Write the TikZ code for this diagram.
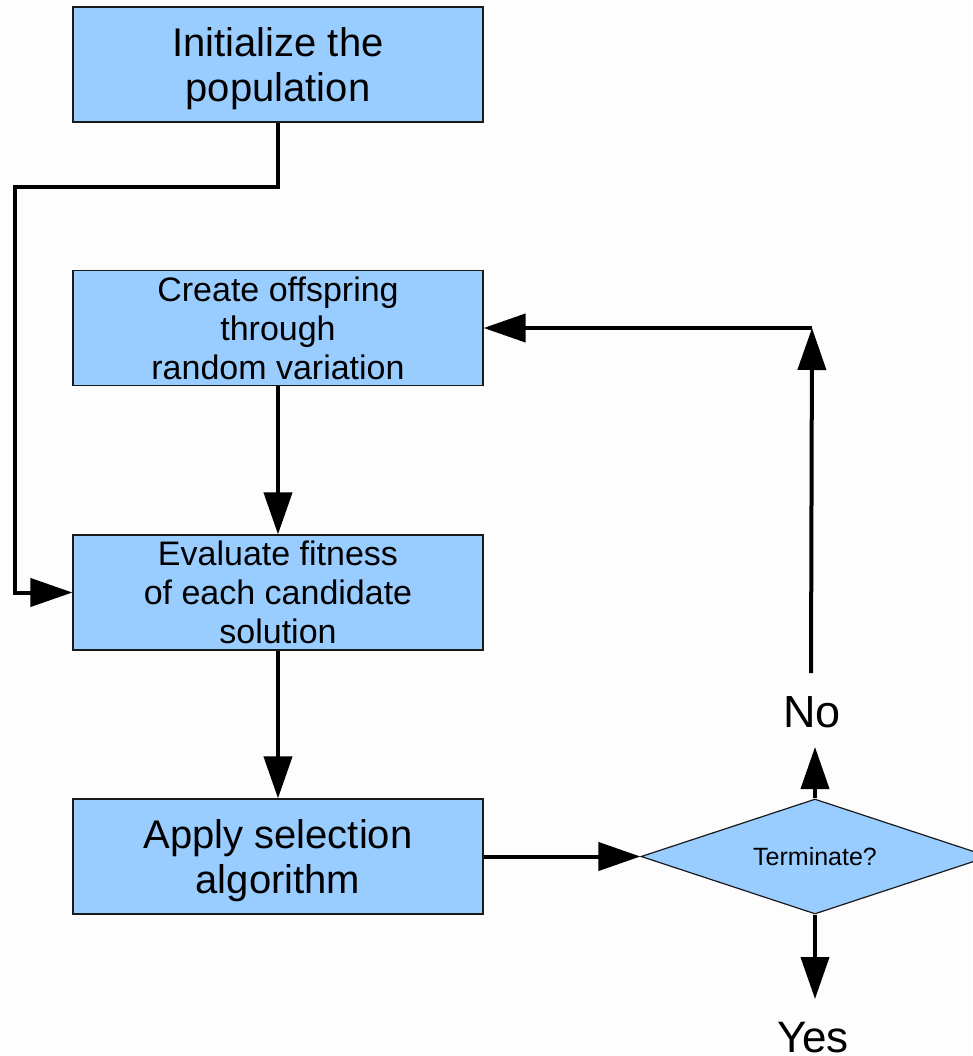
\documentclass[tikz,border=0pt]{standalone}
\usepackage{fontspec}
\setmainfont{Liberation Sans}
\usetikzlibrary{arrows.meta,shapes.geometric}

\definecolor{boxblue}{HTML}{99CCFF}
\definecolor{edgegray}{HTML}{1A1A1A}
\definecolor{paper}{HTML}{FDFDFD}

% taller first line, so the two-line captions sit a little lower in their boxes
\newcommand{\toplift}{\rule{0pt}{37pt}}

\tikzset{
  stepbox/.style={draw=edgegray, line width=1.2pt, fill=boxblue, rectangle,
    minimum width=410pt, minimum height=115pt, inner sep=0pt, align=center},
  bigtext/.style={font=\fontsize{40}{45}\selectfont},
  smalltext/.style={font=\fontsize{34}{39}\selectfont},
  decision/.style={draw=edgegray, line width=1.2pt, fill=boxblue, diamond,
    aspect=3, minimum width=348pt, minimum height=115pt, inner sep=0pt,
    font=\fontsize{25}{30}\selectfont},
  answer/.style={inner sep=0pt, anchor=base},
  flow/.style={line width=4pt, -{Triangle[length=42pt,width=28pt]}}
}

\begin{document}
\begin{tikzpicture}[x=1pt,y=-1pt]
  \fill[paper] (0,0) rectangle (972,1056);
  \useasboundingbox (0,0) rectangle (972,1056);

  % process steps
  \node[stepbox, bigtext]   (init) at (278,64.5)  {\toplift Initialize the\\population};
  \node[stepbox, smalltext] (vary) at (278,328)   {Create offspring\\through\\random variation};
  \node[stepbox, smalltext] (eval) at (278,592.5) {Evaluate fitness\\of each candidate\\solution};
  \node[stepbox, bigtext]   (sel)  at (278,856.5) {\toplift Apply selection\\algorithm};

  % termination test
  \node[decision] (term) at (815,856.5) {Terminate?};

  % answer labels
  \node[answer, font=\fontsize{45}{50}\selectfont] (no)  at (812,727)  {No};
  \node[answer, font=\fontsize{44}{50}\selectfont] (yes) at (813,1052) {Yes};

  % helper points for the loop back
  \coordinate (noTip) at (815,747);
  \coordinate (noTop) at (811,673);
  \coordinate (turn)  at (812,328);
  \coordinate (yesTip) at (815,999);

  % connectors
  \draw[flow] (init.south) |- (15,187) |- (eval.west);
  \draw[flow] (vary.south) -- (eval.north);
  \draw[flow] (eval.south) -- (sel.north);
  \draw[flow] (sel.east) -- (term.west);
  \draw[flow] (term.north) -- (noTip);
  \draw[flow] (noTop) -- (turn);
  \draw[flow] (turn) -- (vary.east);
  \draw[flow] (term.south) -- (yesTip);
\end{tikzpicture}
\end{document}
